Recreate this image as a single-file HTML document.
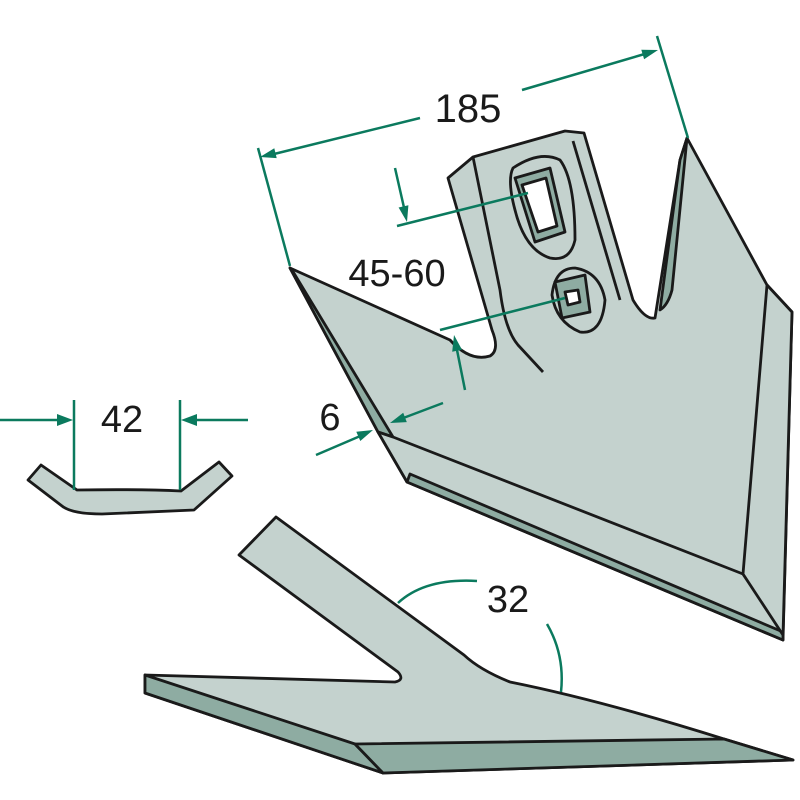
<!DOCTYPE html>
<html><head><meta charset="utf-8"><style>
html,body{margin:0;padding:0;background:#fff;width:800px;height:800px;overflow:hidden}
svg{display:block}
text{font-family:"Liberation Sans",sans-serif;fill:#1a1a1a}
</style></head><body>
<svg width="800" height="800" viewBox="0 0 800 800" xmlns="http://www.w3.org/2000/svg">
<g stroke="#1a1a1a" stroke-width="2.8" stroke-linejoin="round" fill="#c4d2ce">
<path d="M290,268 L378,432 L407,482 L783,640 L792,312 L767,285 L687,138 L680,160 L655,318 Q645,320 633,300 L584,133 L565,131 L473,157 L448,178 L492,330 Q500,350 490,356 Q470,362 450,340 Z"/>
<path d="M290,268 L378,432 L393,437 L292,270 Z" fill="#8eaca2"/>
<path d="M378,432 L407,482 L783,640 L783,632 L743,574 L393,437 Z" fill="#c4d2ce"/>
<path d="M407,482 L783,640 L783,632 L410,474 Z" fill="#8eaca2"/>
<path d="M767,285 L792,312 L783,635 L743,574 Z" fill="#c4d2ce"/>
<path d="M687,138 L680,160 L660,310 Q668,305 672,290 Z" fill="#8eaca2"/>
<path d="M473,157 L500,290 Q505,330 518,345 L543,372" fill="none"/>
<path d="M573,141 L620,300" fill="none"/>
<path d="M513,168 Q540,150 560,160 Q575,180 575,240 Q570,262 550,258 Q525,250 515,210 Q507,180 513,168 Z"/>
<path d="M515,178 L550,168 L565,232 L535,242 Z" fill="#8eaca2"/>
<path d="M522,185 L546,178 L557,226 L538,232 Z" fill="#fff"/>
<path d="M575,268 Q600,272 605,300 Q602,335 580,332 Q556,322 552,295 Q555,268 575,268 Z"/>
<path d="M555,282 L585,275 L590,312 L562,318 Z" fill="#8eaca2"/>
<path d="M565,292 L578,290 L580,302 L568,305 Z" fill="#fff"/>
<path d="M276,517 L239,555 L398,672 Q405,680 395,682 L145,675 L145,693 L383,773 L793,760 L724,739 Q600,700 510,682 Q480,670 464,655 Z"/>
<path d="M145,675 L145,693 L383,773 L355,744 Z" fill="#8eaca2"/>
<path d="M355,744 L383,773 L793,760 L724,739 Z" fill="#8eaca2"/>
<path d="M41,465 L28,480 L62,506 Q72,514 102,514 L194,510 L232,476 L219,462 L181,491 Q140,489 77,490 Z"/>
</g>
<g stroke="#0b7a5e" stroke-width="2.5" fill="none">
<line x1="258" y1="148" x2="290" y2="266"/>
<line x1="657" y1="36" x2="688" y2="138"/>
<line x1="420" y1="118" x2="270" y2="155"/>
<line x1="522" y1="90" x2="648" y2="53"/>
<line x1="395" y1="168" x2="405" y2="212"/>
<line x1="397" y1="226" x2="528" y2="193"/>
<line x1="440" y1="330" x2="565" y2="298"/>
<line x1="465" y1="390" x2="456" y2="345"/>
<line x1="316" y1="455" x2="365" y2="434"/>
<line x1="443" y1="403" x2="398" y2="420"/>
<line x1="74" y1="400" x2="74" y2="490"/>
<line x1="180" y1="400" x2="180" y2="490"/>
<line x1="0" y1="420" x2="62" y2="420"/>
<line x1="248" y1="420" x2="192" y2="420"/>
<path d="M398,603 Q425,578 477,581"/>
<path d="M547,624 Q565,655 561,692"/>
</g>
<g fill="#0b7a5e">
<polygon points="260,157 276.7,158.1 274.3,148.3"/>
<polygon points="658,50 644.1,59.3 641.3,49.7"/>
<polygon points="407,222 408.4,205.3 398.6,207.5"/>
<polygon points="454,335 462,349.7 452.2,351.7"/>
<polygon points="373,430 360.3,441 356.3,431.8"/>
<polygon points="390,423 406.8,422.1 403.2,412.7"/>
<polygon points="73,420 57,414 57,426"/>
<polygon points="181,420 197,414 197,426"/>
</g>
<text x="468" y="122" font-size="40" text-anchor="middle">185</text>
<text x="397" y="286" font-size="38" text-anchor="middle">45-60</text>
<text x="330" y="430" font-size="38" text-anchor="middle">6</text>
<text x="122" y="432" font-size="38" text-anchor="middle">42</text>
<text x="508" y="612" font-size="38" text-anchor="middle">32</text>
</svg>
</body></html>
